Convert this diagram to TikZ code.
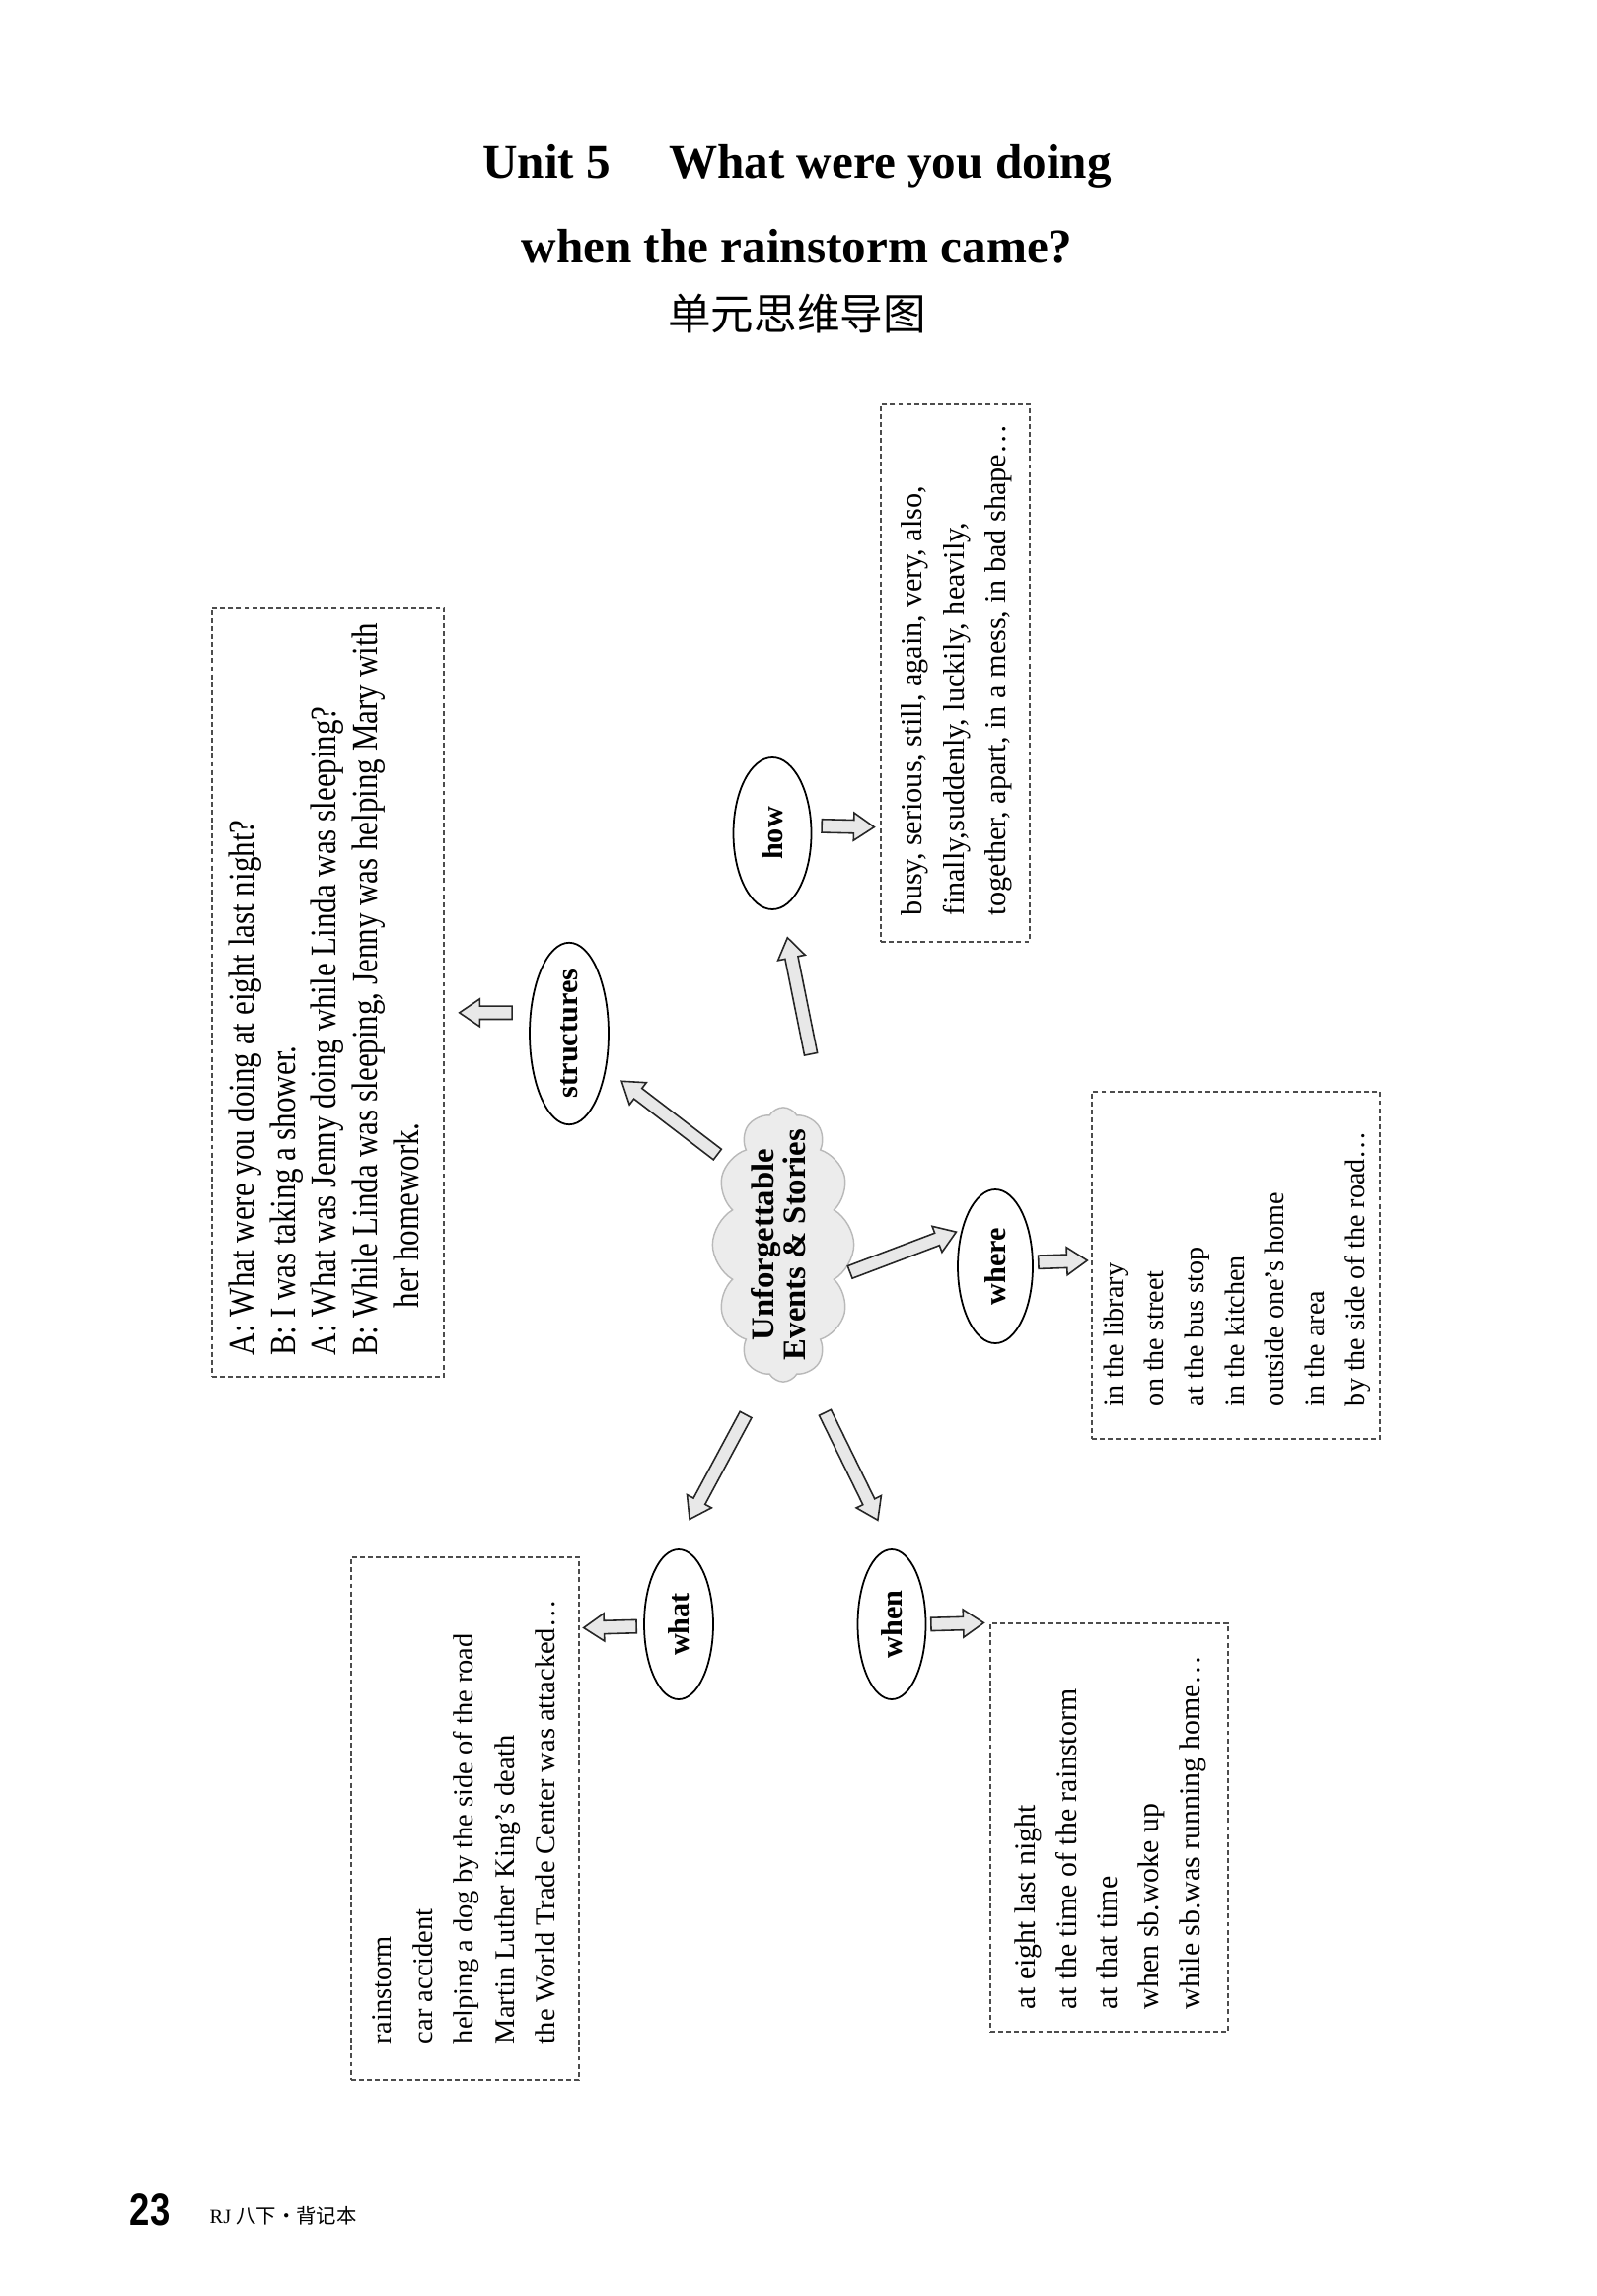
\documentclass[tikz,border=0pt]{standalone}
\usepackage{fontspec}
\usepackage{graphicx}
\setmainfont{Liberation Serif}
\newfontfamily\narrowserif[FakeStretch=0.84]{Liberation Serif}
\newfontfamily\cjk{Noto Sans CJK SC}
\newfontfamily\pagesans[FakeStretch=0.8]{Liberation Sans}
\usetikzlibrary{shapes.geometric, shapes.symbols, calc}

\begin{document}
\begin{tikzpicture}[x=0.1mm, y=-0.1mm,
		oval/.style={draw, ellipse, line width=0.5pt, inner sep=0pt,
			minimum width=0.76cm, minimum height=1.54cm, font=\bfseries\fontsize{8.6}{10}\selectfont},
		listbox/.style={draw=black!70, line width=0.4pt, dash pattern=on 1.4pt off 0.9pt, inner sep=0pt},
		topicnode/.style={cloud, cloud puffs=12, cloud puff arc=120, cloud ignores aspect,
			minimum width=1.42cm, minimum height=2.7cm, inner xsep=1.5pt, inner ysep=-6pt,
			fill=gray!15, draw=gray!55, line width=0.4pt, font=\bfseries\fontsize{9.3}{9}\selectfont},
		fat/.style 2 args={draw=black!85, fill=gray!18, line width=0.45pt,
			to path={let \p1=(\tikztostart), \p2=(\tikztotarget),
				\n1={atan2(\y2-\y1,\x2-\x1)}, \n2={veclen(\x2-\x1,\y2-\y1)} in
				{[shift={(\p1)}, rotate=\n1]
					({#1*0.1mm},-1.9pt) -- ({\n2*1pt-#2*0.1mm-5.9pt},-1.9pt)
					-- ({\n2*1pt-#2*0.1mm-5.9pt},-4pt) -- ({\n2*1pt-#2*0.1mm},0pt)
					-- ({\n2*1pt-#2*0.1mm-5.9pt},4pt) -- ({\n2*1pt-#2*0.1mm-5.9pt},1.9pt)
					-- ({#1*0.1mm},1.9pt) -- cycle}}}
		]
		\fill[white] (0,0) rectangle (1619,2328);
		\useasboundingbox (0,0) rectangle (1619,2328);
		
		% titles
		\node[anchor=base, font=\bfseries\fontsize{14}{16}\selectfont] (title1) at (808,181) {Unit 5\hspace{1.2em}What were you doing};
		\node[anchor=base, font=\bfseries\fontsize{14}{16}\selectfont] (title2) at (808,267) {when the rainstorm came?};
		\node[font=\cjk\fontsize{12.4}{14}\selectfont] (title3) at (808,318) {单元思维导图};
		
		% centre and the five questions
		\node[topicnode] (topic) at (794,1262) {\rotatebox{90}{\begin{tabular}{@{}c@{}}Unforgettable\\Events \& Stories\end{tabular}}};
		\node[oval, minimum width=0.8cm] (ostruct) at (577,1048) {\rotatebox{90}{structures}};
		\node[oval, minimum width=0.79cm] (ohow) at (783,845) {\rotatebox{90}{how}};
		\node[oval, minimum height=1.56cm] (owhere) at (1009,1284) {\rotatebox{90}{where}};
		\node[oval, minimum width=0.7cm, minimum height=1.52cm] (owhat) at (688,1647) {\rotatebox{90}{what}};
		\node[oval, minimum width=0.69cm, minimum height=1.52cm] (owhen) at (904,1647) {\rotatebox{90}{when}};
		
		% dashed boxes
		\node[listbox, minimum width=2.35cm, minimum height=7.8cm, font=\narrowserif\fontsize{10.5}{11.9}\selectfont] (bstruct) at (332.5,1006)
		{\rotatebox{90}{\begin{minipage}{7.36cm}\begin{tabular}{@{}l@{}}
						A: What were you doing at eight last night?\\
						B: I was taking a shower.\\
						A: What was Jenny doing while Linda was sleeping?\\
						B: While Linda was sleeping, Jenny was helping Mary with\\
						\hspace*{0.48cm}her homework.
		\end{tabular}\end{minipage}}};
		\node[listbox, minimum width=1.51cm, minimum height=5.45cm, font=\fontsize{8.6}{12.2}\selectfont] (bhow) at (968.5,682.5)
		{\rotatebox{90}{\begin{minipage}{4.91cm}\begin{tabular}{@{}l@{}}
						busy, serious, still, again, very, also,\\
						finally,suddenly, luckily, heavily,\\
						together, apart, in a mess, in bad shape…
		\end{tabular}\end{minipage}}};
		\node[listbox, minimum width=2.92cm, minimum height=3.52cm, font=\fontsize{8}{11.6}\selectfont] (bwhere) at (1253,1283)
		{\rotatebox{90}{\begin{minipage}{2.86cm}\begin{tabular}{@{}l@{}}
						in the library\\
						on the street\\
						at the bus stop\\
						in the kitchen\\
						outside one's home\\
						in the area\\
						by the side of the road…
		\end{tabular}\end{minipage}}};
		\node[listbox, minimum width=2.31cm, minimum height=5.3cm, font=\fontsize{8.1}{11.8}\selectfont] (bwhat) at (471.5,1844)
		{\rotatebox{90}{\begin{minipage}{4.56cm}\begin{tabular}{@{}l@{}}
						rainstorm\\
						car accident\\
						helping a dog by the side of the road\\
						Martin Luther King's death\\
						the World Trade Center was attacked…
		\end{tabular}\end{minipage}}};
		\node[listbox, minimum width=2.41cm, minimum height=4.14cm, font=\fontsize{8.5}{11.9}\selectfont] (bwhen) at (1124.5,1853)
		{\rotatebox{90}{\begin{minipage}{3.68cm}\begin{tabular}{@{}l@{}}
						at eight last night\\
						at the time of the rainstorm\\
						at that time\\
						when sb.woke up\\
						while sb.was running home…
		\end{tabular}\end{minipage}}};
		
		% block arrows
		\foreach \src/\dst/\off/\gap in {topic.124.9/ostruct.-44.6/13/19.5, topic.62/ohow.-83.9/104/30.5,
			topic.-29.7/owhere.133.8/11/5.6, topic.263.5/owhat.94/46/34.5, topic.-80.3/owhen.north/44/32,
			ostruct.152.6/bstruct.-10.6/18/15, ohow.11.5/bhow.244/10/6, owhere.6/bwhere.178.8/5/4,
			owhat.183.3/bwhat.59.4/7/4, owhen.0/bwhen.north west/4.5/6}
		\draw[fat={\off}{\gap}] (\src) to (\dst);
		
		% footer
		\node[anchor=base west, inner sep=0pt, font=\pagesans\bfseries\fontsize{13}{14}\selectfont] (pageno) at (131,2256) {23};
		\node[anchor=base west, inner sep=0pt, font=\fontsize{5.8}{7}\selectfont] (book) at (212,2254) {RJ {\cjk 八下·背记本}};
	\end{tikzpicture}
\end{document}
